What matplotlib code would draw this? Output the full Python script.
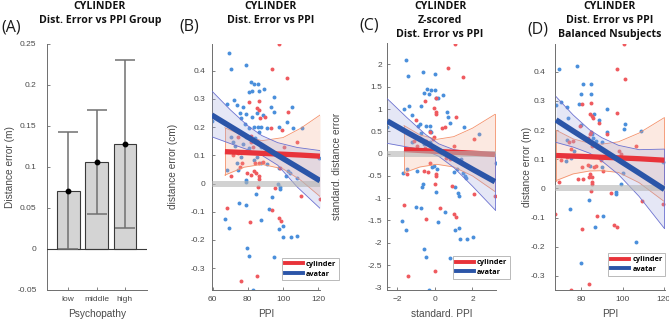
import matplotlib.pyplot as plt
import numpy as np
from matplotlib.lines import Line2D

plt.rcParams["font.family"] = ["Liberation Sans", "DejaVu Sans"]

# ---- panel A: group means ----
groups = ["low", "middle", "high"]
group_mean = [0.071, 0.106, 0.128]
group_err = [0.071, 0.063, 0.102]

# ---- panel B: raw distance error vs PPI ----
b_red = [(97.7, 0.494), (93.6, 0.408), (102.4, 0.375), (86.1, 0.293), (80.8, 0.288), (85, 0.267),
         (86.5, 0.261), (89.8, 0.237), (87.1, 0.231), (102.6, 0.254), (93.2, 0.196), (99.4, 0.19),
         (108.2, 0.148), (74.4, 0.164), (76.7, 0.176), (82, 0.169), (81.6, 0.149), (85.3, 0.151),
         (82.8, 0.131), (100.5, 0.131), (71.6, 0.1), (74.4, 0.11), (77.8, 0.112), (89.4, 0.107),
         (76.5, 0.074), (75.6, 0.06), (84.2, 0.074), (86.1, 0.072), (88.7, 0.075), (83.8, 0.046),
         (70.3, 0.025), (79.5, 0.037), (81.9, 0.031), (84.7, 0.037), (86.6, 0.025), (86.6, 0.017),
         (98.4, 0.054), (95.4, -0.017), (85.7, -0.013), (110.4, -0.044), (120.8, -0.054),
         (68.1, -0.088), (94, -0.094), (81, -0.138), (97.9, -0.122), (98.6, -0.132),
         (85.3, -0.327), (75.9, -0.347)]
b_blue = [(59.4, 0.223), (69.2, 0.465), (70.3, 0.408), (78.8, 0.419), (81.8, 0.359), (83.8, 0.352),
          (85.9, 0.355), (80.8, 0.326), (82.5, 0.33), (86.6, 0.328), (89.4, 0.337), (72, 0.296),
          (74.1, 0.278), (77.2, 0.272), (94.7, 0.306), (93.4, 0.27), (105, 0.27), (68, 0.284),
          (85.3, 0.249), (82.5, 0.235), (79.1, 0.247), (75.4, 0.251), (76.3, 0.231), (88.7, 0.243),
          (95, 0.255), (102, 0.22), (80.8, 0.196), (83.8, 0.202), (85.7, 0.2), (87.6, 0.202),
          (78.2, 0.213), (91, 0.196), (97.9, 0.202), (105.8, 0.196), (110.8, 0.196), (70.7, 0.166),
          (71.6, 0.149), (84.2, 0.16), (79.1, 0.164), (86.4, 0.184), (80.8, 0.125), (87.6, 0.131),
          (77.2, 0.14), (72.9, 0.134), (92.3, 0.119), (76.3, 0.095), (85.3, 0.095), (74.1, 0.072),
          (83.4, 0.084), (87.6, 0.074), (90.8, 0.068), (74.6, 0.048), (68.4, 0.048), (78.8, 0.013),
          (78.8, 0.004), (97.5, 0.054), (96.9, -0.001), (98.2, -0.011), (98.4, -0.019),
          (101.6, 0.025), (102.9, 0.043), (104, 0.036), (107.8, 0.021), (120.6, 0.089),
          (84.4, -0.037), (94, -0.049), (74.8, -0.068), (79.1, -0.076), (92.1, -0.091),
          (67.3, -0.125), (69.2, -0.158), (87.6, -0.131), (97.5, -0.16), (99.8, -0.15),
          (100.1, -0.19), (104.4, -0.191), (108.2, -0.185), (79.7, -0.229), (80.6, -0.256),
          (94.8, -0.261), (82.9, -0.377)]
b_red_fit_x = [67, 78, 88, 100, 110, 121]
b_red_fit = [0.113, 0.110, 0.107, 0.104, 0.101, 0.097]
b_red_hi = [0.198, 0.168, 0.152, 0.163, 0.196, 0.243]
b_red_lo = [0.030, 0.058, 0.068, 0.052, 0.012, -0.046]
b_blue_fit_x = [59.5, 70, 80, 88, 97, 108, 121]
b_blue_fit = [0.243, 0.203, 0.165, 0.135, 0.100, 0.059, 0.010]
b_blue_hi = [0.329, 0.262, 0.205, 0.170, 0.145, 0.128, 0.117]
b_blue_lo = [0.166, 0.142, 0.120, 0.100, 0.065, -0.012, -0.088]

# ---- panel C: z-scored ----
c_red = [(1.06, 2.45), (0.7, 1.93), (1.52, 1.72), (0.07, 1.24), (-0.05, 1.03), (-0.51, 1.18),
         (0.04, 0.94), (0.04, 0.88), (1.13, 0.83), (-1.02, 0.75), (-0.28, 0.48), (0.37, 0.58),
         (0.56, 0.6), (2.06, 0.32), (-0.05, 0.37), (-0.81, 0.34), (-1.11, 0.28), (-0.46, 0.28),
         (-0.11, 0.33), (-0.95, 0.17), (-0.55, 0.12), (1.02, 0.17), (0.33, 0.01), (0.58, -0.09),
         (0.78, -0.13), (-0.28, -0.2), (-1.48, -0.46), (-0.58, -0.39), (-0.35, -0.41),
         (0.04, -0.46), (0.04, -0.51), (2.1, -0.9), (3.21, -0.95), (0.02, -0.69), (0.9, -0.72),
         (-1.66, -1.15), (0.25, -1.21), (1.04, -1.36), (1.13, -1.43), (-0.49, -1.47),
         (0.02, -2.64), (-1.43, -2.75)]
c_blue = [(-2.54, 0.6), (-1.55, 2.1), (-1.46, 1.75), (-0.65, 1.83), (0, 1.78), (-0.41, 1.44),
          (-0.23, 1.43), (0.02, 1.43), (-0.56, 1.37), (-0.32, 1.33), (0.42, 1.31), (0.04, 1.24),
          (0.16, 1.25), (-0.72, 1.07), (-1.39, 1.07), (0.63, 0.93), (-1.66, 1.0), (-1.2, 0.86),
          (-0.9, 0.63), (-0.78, 0.67), (-0.46, 0.63), (-0.28, 0.62), (0.7, 0.83), (-0.25, 0.51),
          (-0.21, 0.48), (0.78, 0.69), (1.57, 0.6), (2.33, 0.45), (-0.74, 0.46), (-0.28, 0.25),
          (-0.58, 0.22), (-1.2, 0.26), (-0.11, 0.15), (0.28, 0.08), (1.39, -0.11), (-0.07, -0.28),
          (-1.48, -0.35), (-1.69, -0.44), (-0.95, -0.39), (-0.14, -0.31), (0.12, -0.34),
          (1.02, -0.41), (1.48, -0.43), (1.62, -0.5), (1.66, -0.54), (1.18, -0.34), (3.24, -0.2),
          (-0.63, -0.69), (-0.67, -0.74), (0.07, -0.86), (1.09, -0.75), (1.22, -0.89),
          (1.27, -0.95), (-0.99, -1.19), (-0.72, -1.23), (0.51, -1.31), (-1.78, -1.51),
          (-1.55, -1.71), (0.16, -1.54), (1.06, -1.72), (1.3, -1.68), (1.34, -1.92), (1.69, -1.92),
          (2.04, -1.86), (-0.58, -2.14), (-0.49, -2.31), (0.78, -2.35), (-0.32, -3.06)]
c_red_fit_x = [-1.65, -0.8, 0.1, 1.0, 2.0, 3.2]
c_red_fit = [0.09, 0.07, 0.05, 0.03, 0.01, -0.02]
c_red_hi = [0.63, 0.42, 0.32, 0.38, 0.57, 0.88]
c_red_lo = [-0.43, -0.30, -0.24, -0.30, -0.50, -0.85]
c_blue_fit_x = [-2.54, -1.5, -0.5, 0.2, 1.0, 2.0, 3.2]
c_blue_fit = [0.73, 0.48, 0.25, 0.08, -0.11, -0.35, -0.63]
c_blue_hi = [1.23, 0.81, 0.43, 0.22, 0.09, 0.03, 0.0]
c_blue_lo = [0.23, 0.15, 0.07, -0.06, -0.31, -0.73, -1.26]

# ---- panel D: balanced subjects ----
d_red = [(100.6, 0.495), (97.1, 0.408), (101.1, 0.376), (80.2, 0.289), (84.8, 0.294), (97.1, 0.26),
         (84.3, 0.255), (85.1, 0.249), (85.8, 0.24), (88.6, 0.224), (79.5, 0.215), (92.6, 0.186),
         (84.8, 0.194), (84, 0.186), (75.8, 0.164), (73.9, 0.161), (83.2, 0.172), (75, 0.135),
         (85.1, 0.147), (106.7, 0.147), (98.4, 0.13), (99.2, 0.118), (70.1, 0.099), (73.1, 0.107),
         (89.4, 0.098), (80.3, 0.073), (83.2, 0.082), (85.9, 0.073), (87, 0.076), (90.7, 0.061),
         (84, 0.05), (85.1, 0.039), (69.1, 0.022), (78.4, 0.033), (80.6, 0.033), (83.5, 0.039),
         (85.1, 0.022), (85, 0.015), (84.6, -0.01), (94.2, -0.015), (109.6, -0.044),
         (119.7, -0.052), (67.2, -0.086), (80.3, -0.138), (87.5, -0.095), (96, -0.124),
         (97.3, -0.133), (83.8, -0.327), (74.8, -0.348)]
d_blue = [(69.1, 0.408), (77.9, 0.419), (80.6, 0.359), (84.6, 0.357), (79.7, 0.325), (84.6, 0.323),
          (67.5, 0.285), (70.1, 0.297), (73.1, 0.28), (79, 0.291), (92.5, 0.272), (73.6, 0.243),
          (86, 0.255), (88.6, 0.235), (80, 0.217), (92.3, 0.192), (100.6, 0.203), (101.1, 0.22),
          (109.1, 0.198), (85.4, 0.186), (72.8, 0.165), (85.6, 0.172), (87, 0.164), (87.5, 0.141),
          (89.9, 0.158), (76.5, 0.13), (72.3, 0.093), (75, 0.103), (76.9, 0.112), (84.3, 0.078),
          (89.9, 0.073), (100.3, 0.053), (99.2, 0.016), (96.8, -0.013), (96.8, -0.018),
          (119.5, 0.09), (83.8, -0.04), (74.4, -0.069), (90.7, -0.094), (86.7, -0.132),
          (106.7, -0.185), (80, -0.255)]
d_red_fit_x = [67.7, 76, 84, 90, 98, 108, 120.3]
d_red_fit = [0.113, 0.111, 0.109, 0.107, 0.105, 0.102, 0.097]
d_red_hi = [0.200, 0.170, 0.155, 0.152, 0.160, 0.190, 0.243]
d_red_lo = [0.027, 0.050, 0.060, 0.061, 0.055, 0.020, -0.045]
d_blue_fit_x = [67.7, 76, 84, 90, 98, 108, 120.3]
d_blue_fit = [0.235, 0.197, 0.161, 0.134, 0.098, 0.053, -0.003]
d_blue_hi = [0.315, 0.252, 0.201, 0.174, 0.148, 0.133, 0.135]
d_blue_lo = [0.158, 0.142, 0.121, 0.094, 0.048, -0.027, -0.137]

RED_DOT, BLUE_DOT = "#ef5a5f", "#4a8fdb"
RED_LINE, BLUE_LINE = "#e8333a", "#2b55a8"
TXT = "#4a4a4a"
AX_COL = "#6e6e6e"

W, H = 669, 322
fig = plt.figure(figsize=(W / 100, H / 100), dpi=100)


def add_ax(left, right, top=43.5, bottom=290):
    return fig.add_axes([left / W, 1 - bottom / H, (right - left) / W, (bottom - top) / H])


def style(ax, ypad):
    for s in ["top", "right"]:
        ax.spines[s].set_visible(False)
    for s in ["left", "bottom"]:
        ax.spines[s].set_color(AX_COL)
        ax.spines[s].set_linewidth(0.7)
    ax.tick_params(direction="in", length=2.5, width=0.6, colors=AX_COL,
                   labelsize=6, labelcolor=TXT)
    ax.tick_params(axis="y", pad=ypad)
    ax.tick_params(axis="x", pad=4.5)


def labels(ax, xl, yl, ylx):
    ax.set_xlabel(xl, fontsize=7.3, color=TXT, va="center")
    ax.set_ylabel(yl, fontsize=7.3, color=TXT, va="center")
    ax.xaxis.set_label_coords(0.5, -23.5 / 246)
    ax.yaxis.set_label_coords(ylx, 0.5)


def titles(x, lines, tag, tag_xy):
    for i, t in enumerate(lines):
        fig.text(x / W, 1 - (6.5 + 13.8 * i) / H, t, ha="center", va="center",
                 fontsize=7.6, fontweight="bold", family=["Open Sans", "DejaVu Sans"], color="#111")
    fig.text(tag_xy[0] / W, 1 - tag_xy[1] / H, tag, ha="center", va="center",
             fontsize=11.5, family=["Open Sans", "DejaVu Sans"], color="#1a1a1a")


def scatter_panel(ax, red, blue, rfx, rf, rhi, rlo, bfx, bf, bhi, blo, legend_xy):
    red = np.array(red)
    blue = np.array(blue)
    ax.scatter(blue[:, 0], blue[:, 1], s=8, color=BLUE_DOT, linewidths=0, zorder=2)
    ax.scatter(red[:, 0], red[:, 1], s=8, color=RED_DOT, linewidths=0, zorder=2)
    ax.fill_between(rfx, rlo, rhi, color="#f6a88a", alpha=0.25, linewidth=0, zorder=3)
    ax.plot(rfx, rhi, color="#f4926c", lw=0.6, zorder=3)
    ax.plot(rfx, rlo, color="#f4926c", lw=0.6, zorder=3)
    ax.plot([rfx[0], rfx[0]], [rlo[0], rhi[0]], color="#f4926c", lw=0.6, zorder=3)
    ax.plot([rfx[-1], rfx[-1]], [rlo[-1], rhi[-1]], color="#f4926c", lw=0.6, zorder=3)
    ax.fill_between(bfx, blo, bhi, color="#9aa2dc", alpha=0.25, linewidth=0, zorder=3)
    ax.plot(bfx, bhi, color="#6c72d0", lw=0.6, zorder=3)
    ax.plot(bfx, blo, color="#6c72d0", lw=0.6, zorder=3)
    ax.plot([bfx[-1], bfx[-1]], [blo[-1], bhi[-1]], color="#6c72d0", lw=0.6, zorder=3)
    ax.plot(rfx, rf, color=RED_LINE, lw=3.8, solid_capstyle="butt", zorder=4)
    ax.axhline(0, color="#b4b4b4", lw=4.3, alpha=0.6, zorder=5)
    ax.plot(bfx, bf, color=BLUE_LINE, lw=4.0, solid_capstyle="butt", zorder=6)
    handles = [Line2D([], [], color=RED_LINE, lw=2.8), Line2D([], [], color=BLUE_LINE, lw=2.8)]
    leg = ax.legend(handles, ["cylinder", "avatar"], loc="upper left",
                    bbox_to_anchor=(legend_xy[0] / W, 1 - legend_xy[1] / H),
                    bbox_transform=fig.transFigure, frameon=True,
                    fancybox=False, borderpad=0.4, handlelength=2.5, handletextpad=0.4,
                    labelspacing=0.35, borderaxespad=0,
                    prop={"weight": "bold", "size": 5.3, "family": ["Open Sans", "DejaVu Sans"]})
    leg.get_frame().set_edgecolor("#9a9a9a")
    leg.get_frame().set_linewidth(0.6)
    leg.set_zorder(10)


# ---- (A) ----
axA = add_ax(47, 147)
xs = np.arange(1, len(groups) + 1)
axA.bar(xs, group_mean, width=0.8, color="#d4d4d4", edgecolor="#3a3a3a", linewidth=0.8, zorder=2)
axA.axhline(0, color="#3a3a3a", lw=0.8, zorder=3)
axA.errorbar(xs, group_mean, yerr=group_err, fmt="none", ecolor="#707070",
             elinewidth=1.1, capsize=7, capthick=1.1, zorder=4)
axA.plot(xs, group_mean, "o", color="black", ms=3.2, zorder=5)
axA.set_xlim(0.25, 3.78)
axA.set_ylim(-0.05, 0.25)
axA.set_xticks(xs)
axA.set_xticklabels(groups)
axA.set_yticks([-0.05, 0, 0.05, 0.1, 0.15, 0.2, 0.25])
axA.set_yticklabels(["-0.05", "0", "0.05", "0.1", "0.15", "0.2", "0.25"])
style(axA, 7.5)
labels(axA, "Psychopathy", "Distance error (m)", -0.37)
titles(100, ["CYLINDER", "Dist. Error vs PPI Group"], "(A)", (11.5, 27))

# ---- (B) ----
axB = add_ax(211.7, 320)
scatter_panel(axB, b_red, b_blue, b_red_fit_x, b_red_fit, b_red_hi, b_red_lo,
              b_blue_fit_x, b_blue_fit, b_blue_hi, b_blue_lo, (281.7, 257.7))
axB.set_xlim(59.5, 121)
axB.set_ylim(-0.378, 0.497)
axB.set_xticks([60, 80, 100, 120])
axB.set_yticks([-0.3, -0.2, -0.1, 0, 0.1, 0.2, 0.3, 0.4])
axB.set_yticklabels(["-0.3", "-0.2", "-0.1", "0", "0.1", "0.2", "0.3", "0.4"])
style(axB, 4.5)
labels(axB, "PPI", "distance error (cm)", -0.355)
titles(270.5, ["CYLINDER", "Dist. Error vs PPI"], "(B)", (189.5, 26.5))

# ---- (C) ----
axC = add_ax(387.3, 495.7)
scatter_panel(axC, c_red, c_blue, c_red_fit_x, c_red_fit, c_red_hi, c_red_lo,
              c_blue_fit_x, c_blue_fit, c_blue_hi, c_blue_lo, (452.7, 256))
axC.set_xlim(-2.54, 3.24)
axC.set_ylim(-3.06, 2.47)
axC.set_xticks([-2, 0, 2])
yt = [-3, -2.5, -2, -1.5, -1, -0.5, 0, 0.5, 1, 1.5, 2]
axC.set_yticks(yt)
axC.set_yticklabels([f"{v:g}" for v in yt])
style(axC, 3.5)
labels(axC, "standard. PPI", "standard. distance error", -0.467)
titles(440, ["CYLINDER", "Z-scored", "Dist. Error vs PPI"], "(C)", (369, 26))

# ---- (D) ----
axD = add_ax(555, 665)
scatter_panel(axD, d_red, d_blue, d_red_fit_x, d_red_fit, d_red_hi, d_red_lo,
              d_blue_fit_x, d_blue_fit, d_blue_hi, d_blue_lo, (608, 253))
axD.set_xlim(67.2, 120.6)
axD.set_ylim(-0.348, 0.497)
axD.set_xticks([80, 100, 120])
axD.set_yticks([-0.3, -0.2, -0.1, 0, 0.1, 0.2, 0.3, 0.4])
axD.set_yticklabels(["-0.3", "-0.2", "-0.1", "0", "0.1", "0.2", "0.3", "0.4"])
style(axD, 7)
labels(axD, "PPI", "distance error (m)", -0.257)
titles(609.5, ["CYLINDER", "Dist. Error vs PPI", "Balanced Nsubjects"], "(D)", (537.5, 30))

fig.savefig("out.png", dpi=100)
